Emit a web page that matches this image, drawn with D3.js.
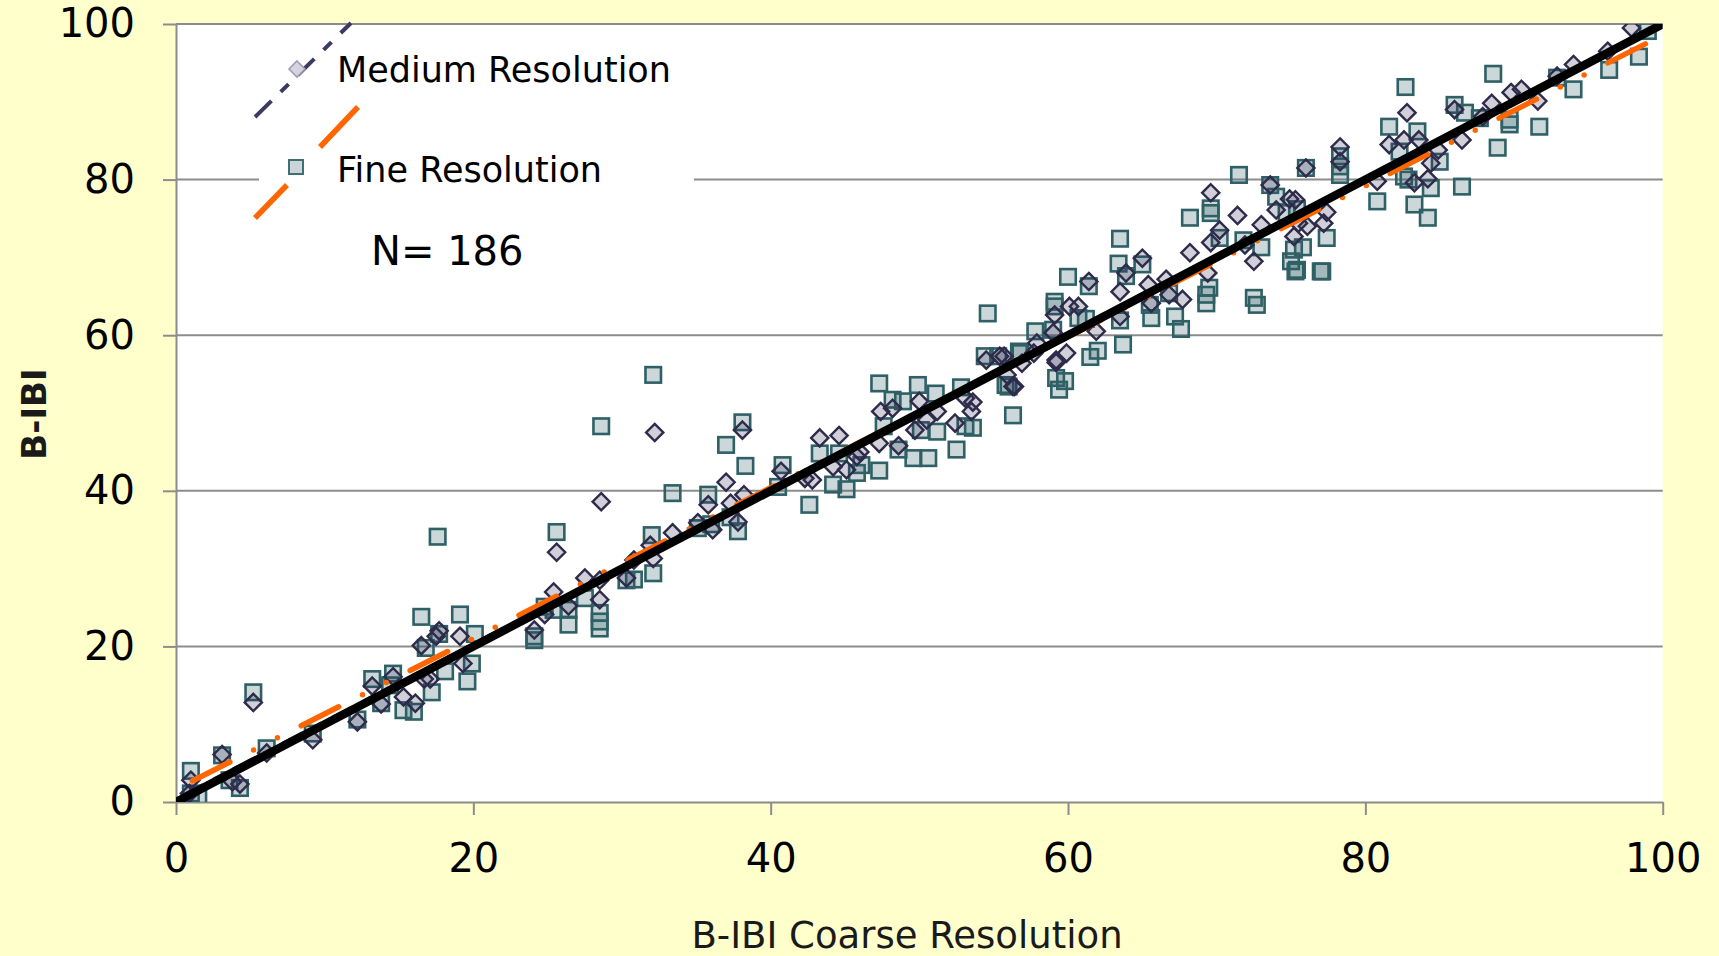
<!DOCTYPE html>
<html>
<head>
<meta charset="utf-8">
<script src="https://cdn.jsdelivr.net/npm/d3@7"></script>
<style>
  body { margin: 0; background: #FFFFCC; }
  svg { display: block; }
</style>
</head>
<body>
<div id="container"></div>
<script>
// B-IBI coarse resolution (x) against medium / fine resolution (y)
var xTicks = [0, 20, 40, 60, 80, 100];
var yTicks = [0, 20, 40, 60, 80, 100];
var seriesNames = ['Medium Resolution', 'Fine Resolution'];
var sampleSize = 186;

// [coarse, medium]
var mediumRes = [
  [1.0,2.8],[0.9,1.1],[3.1,6.1],[3.8,2.6],[4.3,2.3],[5.2,12.8],[6.1,6.3],[9.2,8.0],[12.2,10.3],[13.2,14.9],
  [14.6,16.1],[13.8,12.6],[15.3,13.5],[16.1,12.7],[16.5,20.1],[17.1,15.8],[17.7,22.0],[19.1,21.3],[19.3,17.8],[16.7,15.8],
  [32.2,47.5],[28.6,38.6],[25.6,32.1],[38.1,47.8],[37.0,41.1],[35.8,38.2],[37.3,38.4],[38.2,39.5],[37.8,36.0],[36.1,35.0],
  [35.1,35.9],[33.4,34.6],[32.1,31.3],[31.9,33.0],[30.8,31.1],[30.3,28.8],[28.5,26.0],[28.5,28.5],[27.5,28.8],[25.4,27.0],
  [26.4,25.2],[24.8,24.1],[24.1,22.1],[17.5,21.3],
  [40.7,42.5],[43.3,46.8],[44.6,47.1],[42.3,41.6],[42.8,41.4],[44.2,43.1],[45.1,42.7],[45.8,44.4],[46.0,45.0],[47.4,50.2],
  [47.3,46.1],[48.6,45.8],[48.2,50.6],[49.7,47.8],[50.0,51.5],[50.5,49.1],[51.2,50.2],[52.4,48.7],[53.5,50.2],[53.6,51.4],
  [53.1,51.9],[54.5,56.8],[55.4,57.3],[56.3,53.4],[55.9,54.9],[56.9,56.4],[57.7,57.7],[57.9,59.0],
  [76.0,81.5],[73.6,79.3],[69.6,78.3],[71.4,75.4],[73.0,74.2],[74.0,76.1],[74.9,77.5],[70.2,73.5],[68.2,70.6],[69.6,71.9],
  [72.5,69.5],[71.9,71.6],[75.5,74.4],[75.2,72.7],[65.0,69.9],[63.9,68.0],[61.4,66.9],[63.5,65.6],[63.5,62.4],[65.4,66.5],
  [66.6,67.2],[66.8,65.2],[67.7,64.6],[65.6,64.1],[69.4,68.0],[60.7,63.7],[60.1,63.7],[61.9,60.5],[59.1,62.6],[59.0,60.3],
  [59.2,56.8],[59.2,56.5],[55.7,57.3],[56.4,53.4],[59.9,57.7],
  [97.9,99.5],[96.3,96.5],[94.0,94.8],[92.9,93.3],[91.6,90.1],[90.5,91.6],[89.8,91.2],[88.5,89.8],[87.9,88.1],[86.5,85.1],
  [86.0,89.0],[82.8,88.6],[81.6,84.5],[82.6,85.1],[83.6,85.1],[78.3,84.2],[78.3,82.3],[84.4,82.1],[83.3,79.6],[84.2,80.1],
  [80.8,79.8],[84.9,83.8],[77.4,75.8],[77.2,74.4],[76.1,74.0],[75.3,77.4]
];

// [coarse, fine]
var fineRes = [
  [1.0,4.0],[1.0,1.1],[1.5,0.7],[3.1,6.0],[3.6,2.8],[4.3,1.8],[5.2,14.1],[6.1,6.9],[9.2,8.8],[12.2,10.6],
  [13.2,15.8],[14.6,16.5],[14.4,15.0],[13.8,12.7],[15.3,11.8],[16.0,11.6],[17.2,14.1],[16.5,23.8],[16.8,19.8],[17.7,21.6],
  [18.1,16.8],[19.1,24.1],[19.6,15.5],[20.1,21.6],[19.9,17.8],
  [32.1,54.9],[28.6,48.3],[37.0,45.9],[38.1,48.8],[38.3,43.2],[33.4,39.7],[35.8,39.5],[25.6,34.7],[32.0,34.3],[32.1,29.4],
  [30.3,28.5],[30.8,28.6],[37.8,34.8],[35.1,35.2],[36.0,35.7],[37.3,36.6],[24.8,25.1],[25.4,24.7],[26.4,24.7],[27.5,26.2],
  [26.4,22.8],[28.5,24.3],[28.5,23.2],[28.5,22.3],[17.6,34.1],[24.1,21.3],[24.1,20.8],
  [54.6,62.8],[57.8,60.5],[40.8,43.3],[40.5,40.5],[43.3,44.8],[42.6,38.2],[44.2,40.8],[45.1,40.2],[44.6,44.8],[45.8,42.3],
  [46.1,43.3],[47.3,42.6],[47.3,53.8],[48.2,51.7],[48.9,51.5],[47.6,48.3],[49.9,53.6],[51.1,52.5],[49.6,44.2],[50.6,44.2],
  [48.6,45.3],[51.2,47.6],[50.1,47.8],[52.5,45.3],[52.8,53.3],[53.6,48.1],[53.1,48.3],[56.3,49.7],[55.8,53.6],[54.4,57.3],
  [55.3,57.3],[56.7,57.9],
  [71.5,80.6],[76.0,81.5],[73.6,79.3],[74.0,77.8],[68.2,75.1],[69.6,76.3],[69.6,75.7],[63.5,72.4],[63.4,69.2],[65.0,69.1],
  [63.9,67.6],[70.2,72.5],[71.8,72.2],[73.0,71.3],[74.7,75.7],[75.4,76.2],[75.2,71.0],[75.3,68.2],[75.0,69.5],[75.8,71.3],
  [77.0,68.2],[60.0,67.5],[61.4,66.3],[63.5,61.9],[65.6,62.2],[67.2,62.4],[67.6,60.8],[65.5,63.9],[66.8,65.4],[69.3,65.2],
  [69.3,64.1],[69.5,66.1],[72.5,64.8],[72.7,63.9],[59.1,64.3],[59.1,63.7],[60.7,62.2],[61.2,62.1],[59.0,60.7],[63.7,58.8],
  [62.0,58.0],[61.5,57.2],[59.2,54.5],[59.8,54.1],[59.4,53.0],[56.8,57.7],[56.0,53.4],
  [99.0,99.1],[98.4,95.8],[96.4,94.1],[88.6,93.6],[94.0,91.6],[92.9,93.1],[82.7,91.9],[86.0,89.6],[86.7,88.6],[87.7,87.9],
  [89.7,87.7],[89.7,87.1],[91.7,86.8],[88.9,84.1],[81.6,86.8],[83.5,86.2],[82.3,83.6],[85.0,82.3],[78.3,83.0],[78.3,81.7],
  [78.3,80.6],[82.6,80.4],[82.9,80.0],[84.4,78.9],[86.5,79.1],[80.8,77.2],[83.3,76.8],[84.2,75.1],[77.4,72.5],[77.1,68.2],
  [75.4,68.4]
];

// trend lines, end points
var fineTrend = [[1.1, 2.7], [99.0, 97.6]];
var mediumTrend = [[0.5, 0.9], [99.5, 99.4]];
var oneToOne = [[0, 0], [100, 100]];

/*-------------------------------------------------------------------------------------*/
var width = 1719;
var height = 956;
var margin = { left: 176, right: 56, top: 24, bottom: 154 };
var font = "'DejaVu Sans', sans-serif";
var gridColor = '#8c8c8c';

var svg = d3.select('#container')
  .append('svg')
  .attr('width', width)
  .attr('height', height);

svg.append('rect')
  .attr('width', width)
  .attr('height', height)
  .attr('fill', '#FFFFCC');

var x = d3.scaleLinear()
  .domain([0, 100])
  .range([margin.left, width - margin.right - 0.3]);

var y = d3.scaleLinear()
  .domain([0, 100])
  .range([height - margin.bottom, margin.top]);

svg.append('rect')
  .attr('x', x(0))
  .attr('y', y(100))
  .attr('width', x(100) - x(0))
  .attr('height', y(0) - y(100))
  .attr('fill', '#ffffff');

svg.append('clipPath')
  .attr('id', 'plotclip')
  .append('rect')
  .attr('x', x(0))
  .attr('y', y(100))
  .attr('width', x(100) - x(0))
  .attr('height', y(0) - y(100));

// horizontal gridlines
svg.append('g')
  .selectAll('line')
  .data(yTicks.filter(d => d > 0))
  .join('line')
  .attr('x1', x(0))
  .attr('x2', x(100))
  .attr('y1', d => y(d))
  .attr('y2', d => y(d))
  .attr('stroke', gridColor)
  .attr('stroke-width', 2);

// legend box hides the gridline behind it
svg.append('rect')
  .attr('x', 259)
  .attr('y', 34)
  .attr('width', 435)
  .attr('height', 170)
  .attr('fill', '#ffffff');

// axes
var xAxisG = svg.append('g')
  .attr('transform', `translate(0, ${y(0)})`)
  .call(d3.axisBottom(x).tickValues(xTicks).tickSize(13).tickSizeOuter(0).tickPadding(29));

var yAxisG = svg.append('g')
  .attr('transform', `translate(${x(0)}, 0)`)
  .call(d3.axisLeft(y).tickValues(yTicks).tickSize(13).tickSizeOuter(0).tickPadding(28));

[xAxisG, yAxisG].forEach(g => {
  g.select('.domain').attr('stroke', gridColor).attr('stroke-width', 2);
  g.selectAll('.tick line').attr('stroke', gridColor).attr('stroke-width', 2);
  g.selectAll('.tick text')
    .attr('fill', '#000')
    .style('font-family', font)
    .style('font-size', '40px');
});

/*-------------------------------------------------------------------------------------*/
// markers
var plot = svg.append('g').attr('clip-path', 'url(#plotclip)');

var sq = 15.5;
plot.append('g')
  .selectAll('rect')
  .data(fineRes)
  .join('rect')
  .attr('x', d => x(d[0]) - sq / 2)
  .attr('y', d => y(d[1]) - sq / 2)
  .attr('width', sq)
  .attr('height', sq)
  .attr('fill', 'rgba(47,96,102,0.25)')
  .attr('stroke', '#2f6066')
  .attr('stroke-width', 2.6);

var dm = 8.6;
var diamond = `M0,${-dm}L${dm},0L0,${dm}L${-dm},0Z`;
plot.append('g')
  .selectAll('path')
  .data(mediumRes)
  .join('path')
  .attr('d', diamond)
  .attr('transform', d => `translate(${x(d[0])},${y(d[1])})`)
  .attr('fill', 'rgba(46,43,80,0.22)')
  .attr('stroke', '#2e2b4b')
  .attr('stroke-width', 2.4);

// trend lines
var lineGen = d3.line().x(d => x(d[0])).y(d => y(d[1]));

plot.append('path')
  .attr('d', lineGen(mediumTrend))
  .attr('fill', 'none')
  .attr('stroke', '#3b3a63')
  .attr('stroke-width', 3.5)
  .attr('stroke-dasharray', '22 12 10 12');

plot.append('path')
  .attr('d', lineGen(fineTrend))
  .attr('fill', 'none')
  .attr('stroke', '#ff6600')
  .attr('stroke-width', 5.5)
  .attr('stroke-linecap', 'round')
  .attr('stroke-dasharray', '42 26.7 0 26.7 0 26.7');

plot.append('path')
  .attr('d', lineGen(oneToOne))
  .attr('fill', 'none')
  .attr('stroke', '#000')
  .attr('stroke-width', 8.5);

/*-------------------------------------------------------------------------------------*/
// legend
var legend = svg.append('g');

legend.append('line')
  .attr('x1', 255).attr('y1', 117)
  .attr('x2', 351).attr('y2', 23)
  .attr('stroke', '#3b3a63')
  .attr('stroke-width', 4)
  .attr('stroke-dasharray', '23 13 11 13');

legend.append('line')
  .attr('x1', 255).attr('y1', 218)
  .attr('x2', 287).attr('y2', 185)
  .attr('stroke', '#ff6600')
  .attr('stroke-width', 5.5);

legend.append('line')
  .attr('x1', 320).attr('y1', 147)
  .attr('x2', 358).attr('y2', 107)
  .attr('stroke', '#ff6600')
  .attr('stroke-width', 5.5);

legend.append('path')
  .attr('d', `M0,-8L8,0L0,8L-8,0Z`)
  .attr('transform', 'translate(297,69)')
  .attr('fill', '#d6d4e0')
  .attr('stroke', '#9e9bb3')
  .attr('stroke-width', 1.6);

legend.append('rect')
  .attr('x', 289).attr('y', 160)
  .attr('width', 14).attr('height', 14)
  .attr('fill', '#c9d5d8')
  .attr('stroke', '#3f6f73')
  .attr('stroke-width', 2);

legend.selectAll('text.name')
  .data(seriesNames)
  .join('text')
  .attr('class', 'name')
  .attr('x', 337)
  .attr('y', (d, i) => 82 + i * 100)
  .attr('fill', '#000')
  .style('font-family', font)
  .style('font-size', '35px')
  .text(d => d);

legend.append('text')
  .attr('x', 371)
  .attr('y', 265)
  .attr('fill', '#000')
  .style('font-family', font)
  .style('font-size', '40px')
  .text('N= ' + sampleSize);

// axis titles
svg.append('text')
  .attr('x', 907)
  .attr('y', 948)
  .attr('text-anchor', 'middle')
  .attr('fill', '#1a1a1a')
  .style('font-family', font)
  .style('font-size', '37px')
  .text('B-IBI Coarse Resolution');

svg.append('text')
  .attr('transform', 'translate(46, 414) rotate(-90)')
  .attr('text-anchor', 'middle')
  .attr('fill', '#1a1a1a')
  .style('font-family', font)
  .style('font-weight', 'bold')
  .style('font-size', '34px')
  .text('B-IBI');
</script>
</body>
</html>
